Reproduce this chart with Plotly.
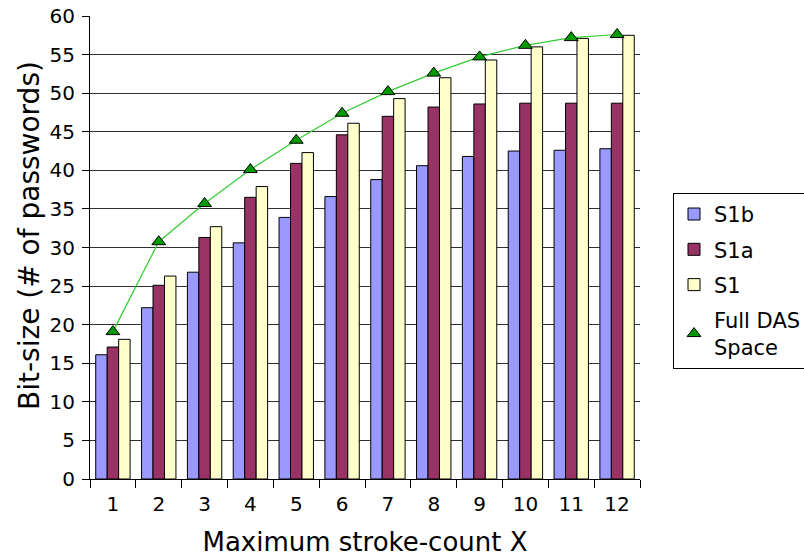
import plotly.graph_objects as go

categories = ["1", "2", "3", "4", "5", "6", "7", "8", "9", "10", "11", "12"]
s1b = [16.1, 22.2, 26.8, 30.6, 33.9, 36.6, 38.8, 40.6, 41.8, 42.5, 42.6, 42.8]
s1a = [17.1, 25.1, 31.3, 36.5, 40.9, 44.6, 47.0, 48.2, 48.6, 48.7, 48.7, 48.7]
s1 = [18.1, 26.3, 32.7, 37.9, 42.3, 46.1, 49.3, 52.0, 54.3, 56.0, 57.1, 57.5]
full_das = [19.1, 30.75, 35.7, 40.1, 43.9, 47.4, 50.2, 52.6, 54.7, 56.2, 57.2, 57.6]
y_ticks = list(range(0, 61, 5))

FONT = "DejaVu Sans"

fig = go.Figure()
outline = dict(color="black", width=1)
fig.add_trace(go.Bar(x=categories, y=s1b, name="S1b", legendgroup="a",
                     marker=dict(color="#9999FF", line=outline)))
fig.add_trace(go.Bar(x=categories, y=s1a, name="S1a", legendgroup="b",
                     marker=dict(color="#993366", line=outline)))
fig.add_trace(go.Bar(x=categories, y=s1, name="S1", legendgroup="c",
                     marker=dict(color="#FFFFCC", line=outline)))
fig.add_trace(go.Scatter(x=categories, y=full_das, mode="lines",
                         line=dict(color="#33CC33", width=1.2),
                         showlegend=False, hoverinfo="skip"))
fig.add_trace(go.Scatter(x=categories, y=full_das, mode="markers",
                         name="Full DAS<br>Space", legendgroup="d",
                         marker=dict(symbol="triangle-up", size=12, color="#009900",
                                     line=dict(color="black", width=1))))

fig.update_layout(
    width=804, height=557,
    margin=dict(l=90, r=164, t=16, b=78, autoexpand=False),
    paper_bgcolor="white", plot_bgcolor="white",
    font=dict(family=FONT, size=20, color="black"),
    barmode="group", bargap=0.25, bargroupgap=0,
    showlegend=True,
    legend=dict(x=1.06, y=0.618, xanchor="left", yanchor="top",
                bgcolor="white", bordercolor="black", borderwidth=1,
                font=dict(family=FONT, size=21, color="black"),
                tracegroupgap=5),
    annotations=[dict(text="Bit-size (# of passwords)", textangle=-90,
                      xref="paper", yref="paper", x=-0.109, y=0.525,
                      xanchor="center", yanchor="middle", showarrow=False,
                      font=dict(family=FONT, size=28, color="black"))],
)
fig.update_xaxes(
    type="category", range=[-0.5, 11.5], tickson="boundaries", ticks="outside",
    ticklen=8, tickcolor="black", showline=True, linecolor="black", linewidth=1,
    showgrid=False, tickfont=dict(size=20), automargin=False,
    ticklabelstandoff=7,
    title=dict(text="Maximum stroke-count X", font=dict(size=26), standoff=17),
)
fig.update_yaxes(
    range=[0, 60], tickvals=y_ticks, ticks="outside", ticklen=7, tickcolor="black",
    showline=True, linecolor="black", linewidth=1,
    showgrid=True, gridcolor="#303030", gridwidth=1, zeroline=False,
    tickfont=dict(size=20), automargin=False, ticklabelstandoff=3,
    ticklabeloverflow="allow",
)

fig.write_html("out.html", config={"displayModeBar": False},
               post_script="document.body.style.margin='0';")
